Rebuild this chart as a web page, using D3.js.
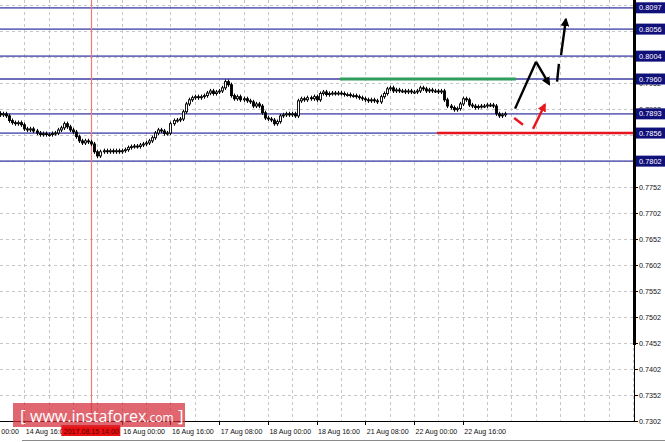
<!DOCTYPE html>
<html><head><meta charset="utf-8">
<script src="https://cdn.jsdelivr.net/npm/d3@7/dist/d3.min.js"></script>
<style>html,body{margin:0;padding:0;background:#fff;overflow:hidden}</style>
</head><body><svg id="c" width="665" height="442"></svg>
<script>
// ---- data ----
const firstOpen = 0.7894;
const closes = [
0.7891,0.7893,0.7889,0.7880,0.7876,0.7874,0.7876,0.7872,0.7864,0.7862,
0.7864,0.7860,0.7856,0.7853,0.7855,0.7853,0.7853,0.7855,0.7856,0.7862,
0.7866,0.7874,0.7868,0.7862,0.7858,0.7849,0.7841,0.7837,0.7841,0.7839,
0.7835,0.7820,0.7812,0.7820,0.7822,0.7820,0.7822,0.7820,0.7822,0.7820,
0.7822,0.7824,0.7828,0.7830,0.7831,0.7830,0.7833,0.7835,0.7837,0.7841,
0.7847,0.7856,0.7862,0.7860,0.7855,0.7856,0.7874,0.7880,0.7881,0.7883,
0.7897,0.7912,0.7920,0.7924,0.7926,0.7924,0.7926,0.7928,0.7933,0.7937,
0.7932,0.7935,0.7937,0.7943,0.7955,0.7949,0.7928,0.7922,0.7926,0.7920,
0.7922,0.7918,0.7916,0.7908,0.7912,0.7908,0.7895,0.7885,0.7883,0.7881,
0.7874,0.7878,0.7889,0.7891,0.7893,0.7891,0.7893,0.7889,0.7918,0.7922,
0.7920,0.7924,0.7922,0.7926,0.7920,0.7932,0.7935,0.7930,0.7932,0.7933,
0.7932,0.7933,0.7932,0.7930,0.7930,0.7928,0.7928,0.7926,0.7924,0.7922,
0.7920,0.7918,0.7920,0.7918,0.7916,0.7926,0.7932,0.7941,0.7943,0.7937,
0.7939,0.7937,0.7937,0.7935,0.7937,0.7935,0.7935,0.7937,0.7943,0.7941,
0.7937,0.7939,0.7937,0.7937,0.7935,0.7937,0.7920,0.7908,0.7905,0.7901,
0.7903,0.7912,0.7922,0.7920,0.7910,0.7908,0.7905,0.7907,0.7908,0.7908,
0.7910,0.7910,0.7908,0.7893,0.7889,0.7891,0.7893];
const wickSize = 0.0004;

const timeTickIndex = [-8,8,40,56,72,88,104,120,136,152];
const timeTickLabels = ["14 Aug 00:00","14 Aug 16:00","16 Aug 00:00","16 Aug 16:00",
  "17 Aug 08:00","18 Aug 00:00","18 Aug 16:00","21 Aug 08:00","22 Aug 00:00","22 Aug 16:00"];
const priceTicks = [0.7302,0.7352,0.7402,0.7452,0.7502,0.7552,0.7602,0.7652,0.7702,0.7752,
  0.7802,0.7852,0.7902,0.7952,0.8002,0.8052,0.8102];
const levelValues = [0.8097,0.8056,0.8004,0.7960,0.7893,0.7856,0.7802];
const resistance = {value:0.7960, from:111.7, to:169.5};
const support = {value:0.7856, from:143.6, to:208.3};
const cursorIndex = 30;
const cursorLabel = "2017.08.15 14:00";
const gridEvery = 8;   // candles between vertical grid lines
const blackPathUp = [[169.2,0.7903],[176.1,0.7993]];
const blackArrowDown = [[176.1,0.7993],[180.4,0.7950]];
const blackDashA = [[183.0,0.7955],[183.6,0.7989]];
const blackDashB = [[184.3,0.8006],[185.9,0.8075]];
const redDashA = [[168.9,0.7885],[171.8,0.7872]];
const redArrow = [[175.1,0.7864],[179.0,0.7911]];

// ---- layout ----
const W = 634, H = 421;
const svg = d3.select("#c");
const x = d3.scaleLinear().domain([0, 208.27]).range([0, W]);
const y = d3.scaleLinear().domain([0.7302, 0.8112]).range([H, 0]);

const defs = svg.append("defs");
defs.append("clipPath").attr("id","clip").append("rect").attr("x",0).attr("y",0).attr("width",W).attr("height",H);
function marker(id, color){
  defs.append("marker").attr("id",id).attr("viewBox","0 0 10 10").attr("refX",8).attr("refY",5)
    .attr("markerWidth",3.6).attr("markerHeight",3.6).attr("orient","auto").attr("markerUnits","strokeWidth")
    .append("path").attr("d","M0,0 L10,5 L0,10 Z").attr("fill",color);
}
marker("ab","#000"); marker("ar","#e8141e");

const plot = svg.append("g").attr("clip-path","url(#clip)");

// grid
const vIdx = d3.range(gridEvery, 209, gridEvery);
plot.selectAll("line.vg").data(vIdx).join("line")
  .attr("x1",d=>Math.round(x(d))+0.5).attr("x2",d=>Math.round(x(d))+0.5).attr("y1",0).attr("y2",H)
  .attr("stroke","#c6c6c6").attr("stroke-dasharray","3,3");
plot.selectAll("line.hg").data(priceTicks).join("line")
  .attr("x1",0).attr("x2",W).attr("y1",d=>Math.round(y(d))+0.5).attr("y2",d=>Math.round(y(d))+0.5)
  .attr("stroke","#c6c6c6").attr("stroke-dasharray","3,3");

// level lines
plot.selectAll("line.lv").data(levelValues).join("line")
  .attr("x1",0).attr("x2",W).attr("y1",d=>y(d)).attr("y2",d=>y(d))
  .attr("stroke","#5454ae").attr("stroke-opacity",0.85).attr("stroke-width",1.8);

// cursor line
plot.append("line").attr("x1",Math.round(x(cursorIndex))+0.5).attr("x2",Math.round(x(cursorIndex))+0.5)
  .attr("y1",0).attr("y2",H).attr("stroke","#f07a7a").attr("stroke-width",1.2);

// candles
const candles = closes.map((c,i)=>({i, o: i ? closes[i-1] : firstOpen, c}));
plot.selectAll("line.wk").data(candles).join("line")
  .attr("x1",d=>Math.round(x(d.i))+0.5).attr("x2",d=>Math.round(x(d.i))+0.5)
  .attr("y1",d=>y(Math.max(d.o,d.c)+wickSize)).attr("y2",d=>y(Math.min(d.o,d.c)-wickSize))
  .attr("stroke","#000").attr("stroke-width",1);
plot.selectAll("rect.bd").data(candles).join("rect")
  .attr("x",d=>Math.round(x(d.i))-0.5).attr("width",2)
  .attr("y",d=>y(Math.max(d.o,d.c))).attr("height",d=>Math.max(1,y(Math.min(d.o,d.c))-y(Math.max(d.o,d.c))))
  .attr("fill",d=>d.c>=d.o?"#fff":"#000").attr("stroke","#000").attr("stroke-width",0.9);

// support / resistance
plot.append("line").attr("x1",x(resistance.from)).attr("x2",x(resistance.to))
  .attr("y1",y(resistance.value)).attr("y2",y(resistance.value)).attr("stroke","#2f9d5c").attr("stroke-width",3);
plot.append("line").attr("x1",x(support.from)).attr("x2",x(support.to))
  .attr("y1",y(support.value)).attr("y2",y(support.value)).attr("stroke","#e8141e").attr("stroke-width",2.6);

// arrows
const ln = d3.line().x(d=>x(d[0])).y(d=>y(d[1]));
function seg(pts,color,m){
  const p = plot.append("path").attr("d",ln(pts)).attr("fill","none").attr("stroke",color)
    .attr("stroke-width",2.4).attr("stroke-linecap","butt");
  if(m) p.attr("marker-end",`url(#${m})`);
}
seg(blackPathUp,"#000");
seg(blackArrowDown,"#000","ab");
seg(blackDashA,"#000");
seg(blackDashB,"#000","ab");
seg(redDashA,"#e8141e");
seg(redArrow,"#e8141e","ar");

// right axis
const fmt = d3.format(".4f");
const ra = svg.append("g");
ra.append("line").attr("x1",634.5).attr("x2",634.5).attr("y1",0).attr("y2",H+0.5).attr("stroke","#000");
ra.append("rect").attr("x",633).attr("y",0).attr("width",3).attr("height",345).attr("fill","#000");
ra.append("line").attr("x1",0).attr("x2",635).attr("y1",H+0.5).attr("y2",H+0.5).attr("stroke","#000");
ra.selectAll("line.rt").data(priceTicks).join("line")
  .attr("x1",635).attr("x2",638).attr("y1",d=>Math.round(y(d))+0.5).attr("y2",d=>Math.round(y(d))+0.5).attr("stroke","#000");
ra.selectAll("text.rl").data(priceTicks).join("text")
  .attr("x",639).attr("y",d=>y(d)+2.5).text(d=>fmt(d))
  .attr("font-family","Liberation Sans, Arial, sans-serif").attr("font-size",7.2).attr("fill","#111");
const lv = ra.selectAll("g.lvl").data(levelValues).join("g").attr("transform",d=>`translate(636,${y(d)})`);
lv.append("rect").attr("x",0).attr("y",-5.5).attr("width",29).attr("height",11).attr("fill","#10107a");
lv.append("text").attr("x",3).attr("y",2.6).text(d=>fmt(d))
  .attr("font-family","Liberation Sans, Arial, sans-serif").attr("font-size",7.4).attr("fill","#fff");

// bottom axis
const ba = svg.append("g");
ba.selectAll("line.bt").data(timeTickIndex).join("line")
  .attr("x1",d=>Math.round(x(d))+0.5).attr("x2",d=>Math.round(x(d))+0.5).attr("y1",H).attr("y2",H+4).attr("stroke","#000");
ba.selectAll("text.bl").data(timeTickIndex).join("text")
  .attr("x",d=>x(d)+1.5).attr("y",433.5).text((d,i)=>timeTickLabels[i])
  .attr("font-family","Liberation Sans, Arial, sans-serif").attr("font-size",7.1).attr("fill","#111");
// cursor label
const cx = x(cursorIndex);
ba.append("rect").attr("x",cx-30).attr("y",425).attr("width",59).attr("height",11).attr("fill","#e81010");
ba.append("text").attr("x",cx).attr("y",433.5).attr("text-anchor","middle").text(cursorLabel)
  .attr("font-family","Liberation Sans, Arial, sans-serif").attr("font-size",7.1).attr("fill","#5a0000");
// window frame
svg.append("line").attr("x1",22).attr("x2",665).attr("y1",440.5).attr("y2",440.5).attr("stroke","#8a8a8a");

// watermark
const wm = svg.append("g");
wm.append("rect").attr("x",13).attr("y",403).attr("width",172).attr("height",24).attr("fill","rgba(212,44,56,0.72)");
const wt = wm.append("text").attr("x",20).attr("y",422).attr("font-family","Open Sans, sans-serif").attr("fill","#fff");
wt.append("tspan").attr("font-size",17).text("[ ");
wt.append("tspan").attr("font-size",16).text("www.instaforex");
wt.append("tspan").attr("font-size",12).text(".com");
wt.append("tspan").attr("font-size",17).text(" ]");
</script></body></html>
